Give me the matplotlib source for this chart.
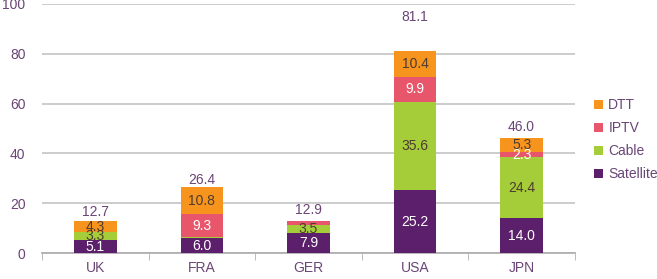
import matplotlib.pyplot as plt
import numpy as np

plt.rcParams['font.family'] = ['Liberation Sans', 'DejaVu Sans']

countries = ["UK", "FRA", "GER", "USA", "JPN"]
satellite = [5.1, 6.0, 7.9, 25.2, 14.0]
cable = [3.3, 0.3, 3.5, 35.6, 24.4]
iptv = [0.0, 9.3, 1.5, 9.9, 2.3]
dtt = [4.3, 10.8, 0.0, 10.4, 5.3]
totals = [12.7, 26.4, 12.9, 81.1, 46.0]
total_label_y = [16.5, 29.3, 17.3, 94.8, 50.6]

series = [("Satellite", satellite, "#5c1f6b", "white"),
          ("Cable", cable, "#a5cd3a", "#4d3b2f"),
          ("IPTV", iptv, "#e8566b", "white"),
          ("DTT", dtt, "#f7941d", "#4d3b2f")]

purple = "#6a4577"
fs = 10

fig = plt.figure(figsize=(6.57, 2.79), dpi=100)
ax = fig.add_axes([0.064, 0.093, 0.811, 0.893])

x = np.arange(len(countries))
bottom = np.zeros(len(countries))
for name, vals, col, tcol in series:
    vals = np.array(vals)
    ax.bar(x, vals, 0.4, bottom=bottom, color=col, label=name, zorder=3)
    for xi, v, b in zip(x, vals, bottom):
        if v >= 2:
            ax.text(xi, b + v / 2, f"{v:.1f}", ha="center", va="center",
                    color=tcol, fontsize=fs, zorder=4)
    bottom += vals

for xi, t, ly in zip(x, totals, total_label_y):
    ax.text(xi, ly, f"{t:.1f}", ha="center", va="center", color=purple, fontsize=fs)

ax.set_xlim(-0.5, len(countries) - 0.5)
ax.set_ylim(0, 100)
ax.set_yticks(range(0, 101, 20))
ax.set_xticks(x)
ax.set_xticklabels(countries)
ax.set_xticks(np.arange(-0.5, len(countries), 1), minor=True)
ax.tick_params(axis="x", which="major", length=0, colors=purple, labelsize=fs, pad=6)
ax.tick_params(axis="x", which="minor", length=5, color="#b0b0b0", direction="out")
ax.tick_params(axis="y", length=0, colors=purple, labelsize=fs, pad=12)
ax.yaxis.grid(True, color="#c8c8c8", linewidth=1.3, zorder=0)
ax.set_axisbelow(True)
for s in ["top", "right", "left"]:
    ax.spines[s].set_visible(False)
ax.spines["bottom"].set_color("#b0b0b0")
ax.spines["bottom"].set_linewidth(1.3)

h, l = ax.get_legend_handles_labels()
leg = ax.legend(h[::-1], l[::-1], loc="center left", bbox_to_anchor=(1.025, 0.455),
                frameon=False, fontsize=fs, handlelength=0.65, handleheight=0.65,
                handletextpad=0.4, labelspacing=0.65, borderaxespad=0)
for t in leg.get_texts():
    t.set_color(purple)

fig.savefig("out.png", dpi=100)
